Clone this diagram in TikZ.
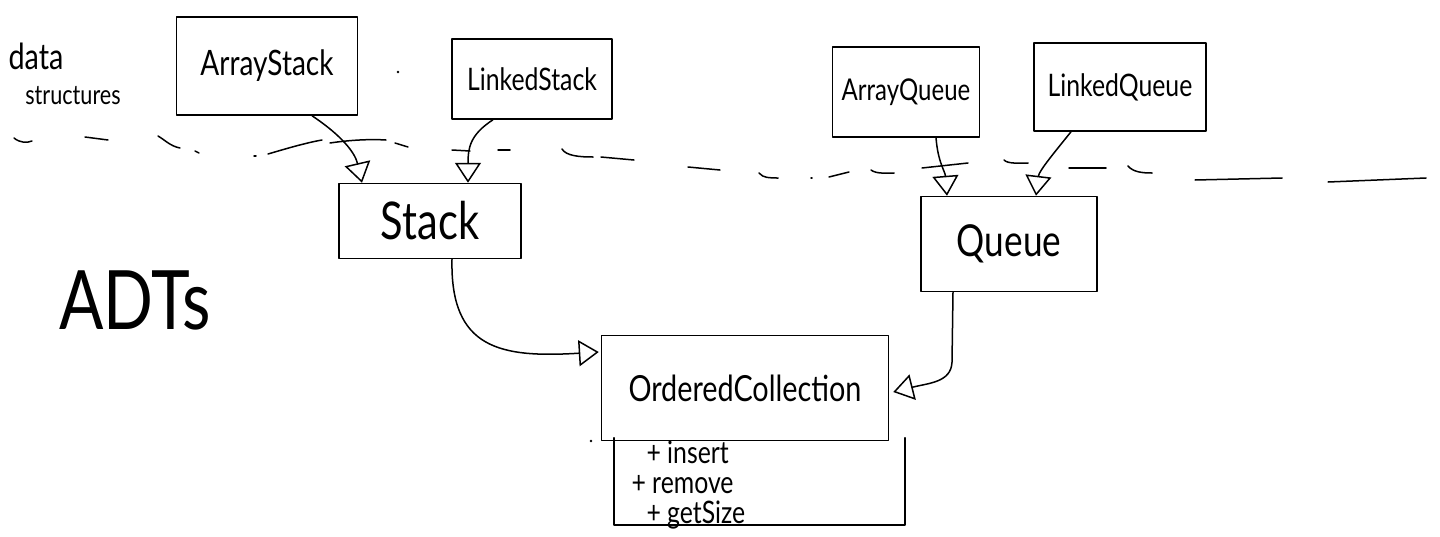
\documentclass[tikz,border=0pt]{standalone}
\usepackage{fontspec}
\setmainfont{Lato}
\newfontfamily\hf[FakeStretch=0.8]{Lato}
\usetikzlibrary{arrows.meta,calc}
\tikzset{
  pen/.style={line width=1.5pt, line cap=round, line join=round},
  box/.style={pen, draw, inner sep=0pt, rectangle},
  hand/.style={font=\hf\fontsize{#1}{#1}\selectfont},
  inh/.style={pen, -{Triangle[open, length=20pt, width=26pt, line width=1.5pt]}},
  dsh/.style={pen},
}
\begin{document}
\begin{tikzpicture}[x=1pt,y=-1pt]
\useasboundingbox (0,0) rectangle (1440,536);
% class boxes
\node[box, minimum width=181pt, minimum height=98pt, hand=35] (as) at (267,66) {ArrayStack};
\node[box, minimum width=160pt, minimum height=80pt, hand=31] (ls) at (532,79) {LinkedStack};
\node[box, minimum width=147pt, minimum height=90pt, hand=30] (aq) at (906,92) {ArrayQueue};
\node[box, minimum width=172pt, minimum height=88pt, hand=31] (lq) at (1120,87) {LinkedQueue};
\node[box, minimum width=182pt, minimum height=75pt, hand=52] (st) at (430,221) {Stack};
\node[box, minimum width=176pt, minimum height=95pt, hand=44] (q) at (1009,244) {Queue};
\node[box, minimum width=287pt, minimum height=105pt, hand=36] (oc) at (745,388) {OrderedCollection};
% operations compartment
\node[minimum width=291pt, minimum height=87pt, inner sep=0pt] (ops) at (759.5,481.5) {};
\draw[pen] (ops.north west) -- (ops.south west) -- (ops.south east) -- (ops.north east);
\node[hand=31, anchor=west] (m1) at (643,452) {+ insert};
\node[hand=31, anchor=west] (m2) at (628,485) {+ remove};
\node[hand=31, anchor=west] (m3) at (643,515) {+ getSize};
% labels
\node[hand=36] (data) at (36,56) {data};
\node[hand=27] (struct) at (73,96) {structures};
\node[hand=82] (adts) at (135,300) {ADTs};
% stray dots
\fill (398,72) circle (1.4pt);
\fill (591,441) circle (1.4pt);
% dashed separator
\draw[dsh] (14,138) .. controls (20,143) and (27,143) .. (32,141);
\draw[dsh] (85,137) -- (108,140);
\draw[dsh] (158,136) .. controls (165,140) and (170,146) .. (180,148);
\draw[dsh] (195,151) -- (199,153);
\draw[dsh] (254,156) -- (256,156);
\draw[dsh] (268,154) .. controls (285,149) and (305,143) .. (322,140);
\draw[dsh] (330,143) .. controls (350,140) and (370,139) .. (386,140);
\draw[dsh] (395,143) -- (408,147);
\draw[dsh] (452,150) -- (470,151);
\draw[dsh] (498,150) -- (510,150);
\draw[dsh] (562,149) .. controls (566,156) and (580,157) .. (593,157);
\draw[dsh] (601,157) -- (634,160);
\draw[dsh] (688,167) -- (720,170);
\draw[dsh] (759,173) .. controls (763,178) and (770,178) .. (778,178);
\draw[dsh] (811,178) -- (812,178);
\draw[dsh] (829,177) -- (849,172);
\draw[dsh] (871,170) .. controls (876,174) and (886,173) .. (894,173);
\draw[dsh] (922,168) -- (968,163);
\draw[dsh] (1004,160) .. controls (1008,164) and (1018,163) .. (1028,163);
\draw[dsh] (1069,168) -- (1106,168);
\draw[dsh] (1128,166) .. controls (1133,172) and (1142,173) .. (1152,173);
\draw[dsh] (1195,180) -- (1282,178);
\draw[dsh] (1328,182) -- (1426,178);
% inheritance connectors
\draw[inh] ($(as.south)+(45,0)$) .. controls ($(as.south)+(75,20)$) and ($(st.north)+(-75,-30)$) .. ($(st.north)+(-68,0)$);
\draw[inh] ($(ls.south)+(-39,0)$) .. controls ($(ls.south)+(-62,15)$) and ($(st.north)+(38,-35)$) .. ($(st.north)+(38,0)$);
\draw[inh] ($(aq.south)+(30,0)$) .. controls ($(aq.south)+(32,25)$) and ($(q.north)+(-64,-25)$) .. ($(q.north)+(-62,0)$);
\draw[inh] ($(lq.south)+(-49,0)$) .. controls ($(lq.south)+(-65,20)$) and ($(q.north)+(30,-25)$) .. ($(q.north)+(27,0)$);
\draw[inh] ($(st.south)+(22,0)$) .. controls ($(st.south)+(20,90)$) and ($(oc.west)+(-100,-30)$) .. ($(oc.west)+(-2,-36)$);
\draw[inh] ($(q.south)+(-56,0)$) -- ($(q.south)+(-57,70)$) .. controls ($(q.south)+(-58,90)$) and ($(oc.east)+(40,-5)$) .. ($(oc.east)+(4,4)$);
\end{tikzpicture}
\end{document}
